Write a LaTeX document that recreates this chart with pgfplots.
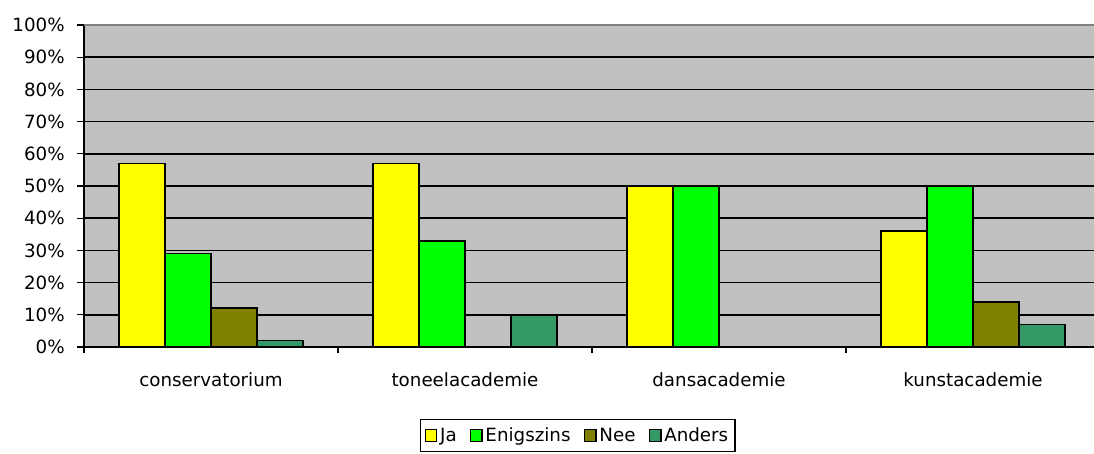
\documentclass[border=0pt]{standalone}
\usepackage{pgfplots}
\pgfplotsset{compat=1.18}
\usepackage{fontspec}
\setmainfont{DejaVu Sans}
\definecolor{bgray}{HTML}{C0C0C0}
\definecolor{cJa}{HTML}{FFFF00}
\definecolor{cEn}{HTML}{00FF00}
\definecolor{cNee}{HTML}{808000}
\definecolor{cAn}{HTML}{339966}
\definecolor{topgray}{HTML}{808080}
\begin{document}
\begin{tikzpicture}[font=\fontsize{13.7pt}{16pt}\selectfont]
\useasboundingbox (-63pt,-79.5pt) rectangle (757.5pt,260.25pt);
\begin{axis}[
  at={(0,0)}, anchor=south west,
  width=762pt, height=241.5pt, scale only axis,
  xmin=-0.5, xmax=3.5, ymin=0, ymax=100,
  ybar=0pt, bar width=0.181,
  axis x line*=bottom, axis y line*=left,
  axis line style={-, black, line width=1.2pt},
  axis background/.style={fill=bgray},
  xtick={0,1,2,3},
  xticklabels={conservatorium,toneelacademie,dansacademie,kunstacademie},
  major x tick style={draw=none},
  minor xtick={-0.5,0.5,1.5,2.5,3.5},
  minor x tick style={black, line width=1pt},
  tick align=outside,
  major tick length=5pt, minor tick length=4.5pt,
  xticklabel style={yshift=-11pt},
  ytick={0,10,...,90},
  extra y ticks={100},
  extra y tick style={major grid style={topgray, line width=1.4pt}},
  yticklabel={\pgfmathprintnumber{\tick}\%},
  yticklabel style={xshift=-6pt},
  ytick style={black, line width=1pt},
  ymajorgrids,
  major grid style={black, line width=1.1pt},
  /pgf/number format/assume math mode=true,
  every axis plot/.append style={draw=black, line width=1.3pt},
  legend columns=4,
  legend style={at={(0.486,0)}, anchor=north, yshift=-54pt, draw=black, line width=0.9pt,
    inner xsep=3pt, inner ysep=4pt, /tikz/every even column/.append style={column sep=8pt},
    font=\fontsize{13.7pt}{16pt}\selectfont},
  legend image code/.code={\draw[#1, draw=black, line width=1pt] (0pt,-4.3pt) rectangle (8.6pt,4.3pt);},
]
\addplot[fill=cJa] coordinates {(0,57) (1,57) (2,50) (3,36)};
\addplot[fill=cEn] coordinates {(0,29) (1,33) (2,50) (3,50)};
\addplot[fill=cNee] coordinates {(0,12) (3,14)};
\addplot[fill=cAn] coordinates {(0,2) (1,10) (3,7)};
\legend{Ja,Enigszins,Nee,Anders}
\end{axis}
\end{tikzpicture}
\end{document}
